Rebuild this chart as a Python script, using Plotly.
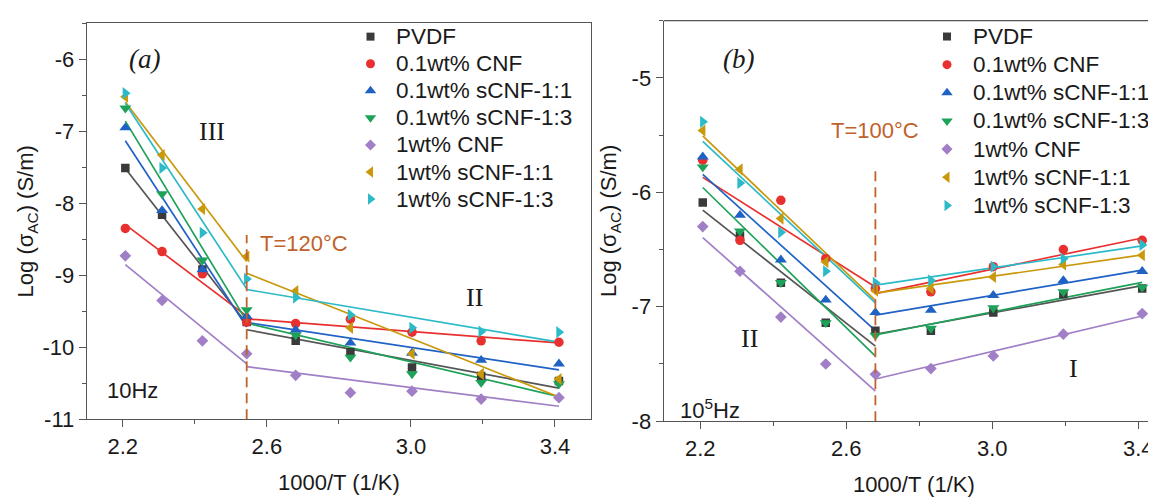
import numpy as np
import plotly.graph_objects as go

# ---------------- data ----------------
inv_T = [2.207, 2.309, 2.421, 2.544, 2.680, 2.832, 3.003, 3.195, 3.411]   # 1000/T (1/K)

names = ["PVDF", "0.1wt% CNF", "0.1wt% sCNF-1:1", "0.1wt% sCNF-1:3",
         "1wt% CNF", "1wt% sCNF-1:1", "1wt% sCNF-1:3"]

# panel (a): 10 Hz
pvdf_a   = [-7.51, -8.16, -8.92, -9.65, -9.91, -10.07, -10.28, -10.40, -10.47]
cnf01_a  = [-8.35, -8.67, -8.98, -9.65, -9.67, -9.61, -9.79, -9.91, -9.93]
s11_01_a = [-6.95, -8.10, -8.92, -9.57, -9.76, -9.94, -10.08, -10.18, -10.23]
s13_01_a = [-6.68, -7.87, -8.79, -9.48, -9.83, -10.14, -10.37, -10.49, -10.51]
cnf1_a   = [-8.73, -9.35, -9.91, -10.09, -10.39, -10.63, -10.61, -10.72, -10.70]
s11_1_a  = [-6.52, -7.33, -8.08, -8.74, -9.22, -9.73, -10.09, -10.37, -10.44]
s13_1_a  = [-6.47, -7.51, -8.41, -9.05, -9.31, -9.55, -9.73, -9.78, -9.79]

# panel (b): 10^5 Hz
pvdf_b   = [-6.09, -6.38, -6.79, -7.14, -7.21, -7.21, -7.05, -6.89, -6.84]
cnf01_b  = [-5.72, -6.42, -6.07, -6.58, -6.84, -6.87, -6.65, -6.50, -6.42]
s11_01_b = [-5.69, -6.20, -6.59, -6.94, -7.05, -7.03, -6.90, -6.77, -6.69]
s13_01_b = [-5.78, -6.34, -6.79, -7.14, -7.25, -7.19, -7.01, -6.87, -6.83]
cnf1_b   = [-6.30, -6.69, -7.09, -7.50, -7.59, -7.54, -7.43, -7.24, -7.06]
s11_1_b  = [-5.46, -5.80, -6.23, -6.61, -6.86, -6.84, -6.74, -6.63, -6.55]
s13_1_b  = [-5.385, -5.92, -6.35, -6.69, -6.79, -6.77, -6.65, -6.58, -6.46]

series_a = [pvdf_a, cnf01_a, s11_01_a, s13_01_a, cnf1_a, s11_1_a, s13_1_a]
series_b = [pvdf_b, cnf01_b, s11_01_b, s13_01_b, cnf1_b, s11_1_b, s13_1_b]

# fit segments (index ranges, inclusive) -- transition point shared
segments_a = [(0, 3), (3, 8)]    # T=120 C break
segments_b = [(0, 4), (4, 8)]    # T=100 C break

x_ticks = [2.2, 2.6, 3.0, 3.4]
x_tick_text = ["2.2", "2.6", "3.0", "3.4"]
x_minor = [2.4, 2.8, 3.2]
ya_ticks = [-11, -10, -9, -8, -7, -6]
ya_tick_text = ["-11", "-10", "-9", "-8", "-7", "-6"]
ya_minor = [-10.5, -9.5, -8.5, -7.5, -6.5, -5.5]
yb_ticks = [-8, -7, -6, -5]
yb_tick_text = ["-8", "-7", "-6", "-5"]
yb_minor = [-7.5, -6.5, -5.5, -4.5]

# ---------------- styles ----------------
colors = ["#3a3a3a", "#e8302f", "#1f62c4", "#1ea159", "#a07fc6", "#c9980b", "#2cbac8"]
line_colors = ["#555555", "#e8302f", "#1f62c4", "#1ea159", "#a07fc6", "#c9980b", "#2cbac8"]
symbols = ["square", "circle", "triangle-up", "triangle-down", "diamond",
           "triangle-left", "triangle-right"]
sizes = [8.5, 9.5, 10.5, 10.5, 9, 10.5, 10.5]
SANS = "Liberation Sans, Arial, sans-serif"
SERIF = "Liberation Serif, Times New Roman, serif"
ACC = "#c0622a"
TXT = "#1a1a1a"
AX = "#555555"

W, H = 1156, 498
fig = go.Figure()

def add_panel(series, segments, xa, ya):
    for i, ys in enumerate(series):
        for (s, e) in segments:
            xs = np.array(inv_T[s:e + 1])
            yv = np.array(ys[s:e + 1])
            k, b = np.polyfit(xs, yv, 1)
            xl = np.array([xs[0], xs[-1]])
            fig.add_trace(go.Scatter(x=xl, y=k * xl + b, mode="lines",
                                     line=dict(color=line_colors[i], width=1.7),
                                     xaxis=xa, yaxis=ya, showlegend=False,
                                     hoverinfo="skip"))
    for i, ys in enumerate(series):
        fig.add_trace(go.Scatter(x=inv_T, y=ys, mode="markers", name=names[i],
                                 marker=dict(symbol=symbols[i], size=sizes[i], opacity=1,
                                             color=colors[i], line=dict(width=0)),
                                 xaxis=xa, yaxis=ya, showlegend=False))

add_panel(series_a, segments_a, "x", "y")
add_panel(series_b, segments_b, "x2", "y2")

# ---------------- legends (pixel layout on a hidden full-figure axis) ----------------
legend_boxes = [dict(sym_x=362.5, text_x=386, y0=29.4, dy=27.8),
                dict(sym_x=939.0, text_x=963, y0=29.3, dy=28.9)]
for box in legend_boxes:
    rows = np.arange(len(names))
    ys_px = box["y0"] + rows * box["dy"]
    fig.add_trace(go.Scatter(x=np.full(len(names), box["sym_x"]), y=ys_px, mode="markers",
                             marker=dict(symbol=symbols, size=[s - 0.5 for s in sizes],
                                         opacity=1, color=colors, line=dict(width=0)),
                             xaxis="x3", yaxis="y3", showlegend=False, hoverinfo="skip"))
    for nm, yp in zip(names, ys_px):
        fig.add_annotation(text=nm, x=box["text_x"] / W, y=1 - yp / H, xref="paper",
                           yref="paper", showarrow=False, xanchor="left", yanchor="middle",
                           font=dict(family=SANS, size=22.5, color=TXT))

axis_common = dict(showline=True, linecolor=AX, linewidth=1.3,
                   ticks="outside", ticklen=7, tickwidth=1.3, tickcolor=AX,
                   showgrid=False, zeroline=False,
                   tickfont=dict(family=SANS, size=22, color=TXT),
                   title_font=dict(family=SANS, size=22, color=TXT))
minor_common = dict(ticklen=4, tickwidth=1.3, tickcolor=AX, ticks="outside")

fig.update_layout(
    width=W, height=H, margin=dict(l=0, r=0, t=0, b=0),
    paper_bgcolor="white", plot_bgcolor="rgba(0,0,0,0)", showlegend=False,
    xaxis=dict(domain=[78.8 / W, 583 / W], range=[2.1, 3.5], anchor="y",
               tickvals=x_ticks, ticktext=x_tick_text, mirror=True,
               minor=dict(tickvals=x_minor, **minor_common),
               title=dict(text="1000/T (1/K)", standoff=16), **axis_common),
    yaxis=dict(domain=[1 - 422.3 / H, 1 - 15.7 / H], range=[-11, -5.5], anchor="x",
               tickvals=ya_ticks, ticktext=ya_tick_text, mirror=True,
               minor=dict(tickvals=ya_minor, **minor_common),
               title=dict(text="Log (σ<sub>AC</sub>) (S/m)", standoff=2), **axis_common),
    xaxis2=dict(domain=[655.7 / W, 1.0], range=[2.1, 2.1 + 500.3 / 365], anchor="y2",
                tickvals=x_ticks, ticktext=x_tick_text,
                minor=dict(tickvals=x_minor, **minor_common),
                title=dict(text="1000/T (1/K)", standoff=16), **axis_common),
    yaxis2=dict(domain=[1 - 424.3 / H, 1 - 12.9 / H], range=[-8, -4.5], anchor="x2",
                tickvals=yb_ticks, ticktext=yb_tick_text,
                minor=dict(tickvals=yb_minor, **minor_common),
                title=dict(text="Log (σ<sub>AC</sub>) (S/m)", standoff=8), **axis_common),
    xaxis3=dict(domain=[0, 1], range=[0, W], visible=False, anchor="y3", fixedrange=True),
    yaxis3=dict(domain=[0, 1], range=[H, 0], visible=False, anchor="x3", fixedrange=True),
)

# top border line of panel (b) (right side cropped in the original)
fig.add_shape(type="line", xref="x2 domain", yref="y2 domain", x0=0, x1=1, y0=1, y1=1,
              line=dict(color=AX, width=1.3))

# dashed transition lines
fig.add_shape(type="line", xref="x", yref="y", x0=inv_T[3], x1=inv_T[3], y0=-11, y1=-8.44,
              line=dict(color=ACC, width=1.8, dash="10px,6px"))
fig.add_shape(type="line", xref="x2", yref="y2", x0=inv_T[4], x1=inv_T[4], y0=-8, y1=-5.77,
              line=dict(color=ACC, width=1.8, dash="10px,6px"))

def ann(text, x, y, xref, yref, font, xanchor="center"):
    fig.add_annotation(text=text, x=x, y=y, xref=xref, yref=yref, showarrow=False,
                       xanchor=xanchor, yanchor="middle", font=font)

ann("<i>(a)</i>", 2.26, -6.0, "x", "y", dict(family=SERIF, size=27, color=TXT))
ann("III", 2.447, -7.0, "x", "y", dict(family=SERIF, size=26, color=TXT))
ann("II", 3.176, -9.31, "x", "y", dict(family=SERIF, size=26, color=TXT))
ann("T=120°C", 2.575, -8.56, "x", "y", dict(family=SANS, size=22, color=ACC), "left")
ann("10Hz", 2.150, -10.6, "x", "y", dict(family=SANS, size=22, color=TXT), "left")

ann("<i>(b)</i>", 2.305, -4.84, "x2", "y2", dict(family=SERIF, size=27, color=TXT))
ann("T=100°C", 2.552, -5.46, "x2", "y2", dict(family=SANS, size=22, color=ACC), "left")
ann("II", 2.336, -7.28, "x2", "y2", dict(family=SERIF, size=26, color=TXT))
ann("I", 3.224, -7.54, "x2", "y2", dict(family=SERIF, size=26, color=TXT))
ann("10<sup>5</sup>Hz", 2.140, -7.89, "x2", "y2", dict(family=SANS, size=22, color=TXT), "left")

fig.write_html("out.html")
